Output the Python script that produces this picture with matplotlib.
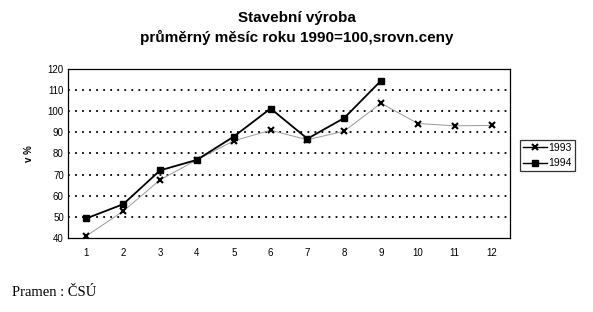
import matplotlib
matplotlib.use("Agg")
import matplotlib.pyplot as plt

months = [1, 2, 3, 4, 5, 6, 7, 8, 9, 10, 11, 12]
v1993 = [41, 52.7, 67.5, 77, 86, 91, 86.5, 90.6, 103.8, 94.2, 93.1, 93.3]
months_1994 = [1, 2, 3, 4, 5, 6, 7, 8, 9]
v1994 = [49.3, 56, 72, 77, 88, 101.3, 87, 96.8, 114.5]
yticks = [40, 50, 60, 70, 80, 90, 100, 110, 120]

plt.rcParams['font.family'] = ['Liberation Sans', 'DejaVu Sans']

fig = plt.figure(figsize=(5.93, 3.12), dpi=100)
ax = fig.add_axes([68/593, 1-238/312, (510-68)/593, (238-69)/312])

for y in yticks[1:-1]:
    ax.axhline(y, color='black', lw=1.3, ls=(0, (1, 2.9)), zorder=1)

ax.plot(months, v1993, color='#999999', lw=0.7, marker='x', ms=5, mec='black',
        mew=1.5, label='1993', zorder=3)
ax.plot(months_1994, v1994, color='black', lw=1.3, marker='s', ms=5,
        mfc='black', mec='black', label='1994', zorder=4)

ax.set_xlim(0.5, 12.5)
ax.set_ylim(40, 120)
ax.set_xticks(months)
ax.set_yticks(yticks)
ax.tick_params(axis='both', length=0, labelsize=7)
ax.tick_params(axis='x', pad=7)
ax.tick_params(axis='y', pad=3)
for s in ax.spines.values():
    s.set_linewidth(0.9)
ax.set_ylabel('v %', fontsize=7, labelpad=10, fontweight='bold')

leg = ax.legend(loc='upper left', bbox_to_anchor=(520/593, 1-140/312),
                bbox_transform=fig.transFigure, fontsize=7.5, frameon=True,
                fancybox=False, edgecolor='black', handlelength=2.3,
                handletextpad=0.1, borderpad=0.3, labelspacing=0.5,
                borderaxespad=0)
leg.get_frame().set_linewidth(0.9)
for h in leg.get_lines():
    h.set_color('black')
    h.set_linewidth(1.0)

fig.text(0.5, 1-18/312, 'Stavební výroba', ha='center', va='center',
         fontsize=11, fontweight='bold')
fig.text(0.5, 1-37/312, 'průměrný měsíc roku 1990=100,srovn.ceny',
         ha='center', va='center', fontsize=11, fontweight='bold')
fig.text(12/593, 1-292/312, 'Pramen : ČSÚ', ha='left', va='center',
         fontsize=10.5, family=['Liberation Serif', 'DejaVu Serif'])

fig.savefig('out.png', dpi=100)
